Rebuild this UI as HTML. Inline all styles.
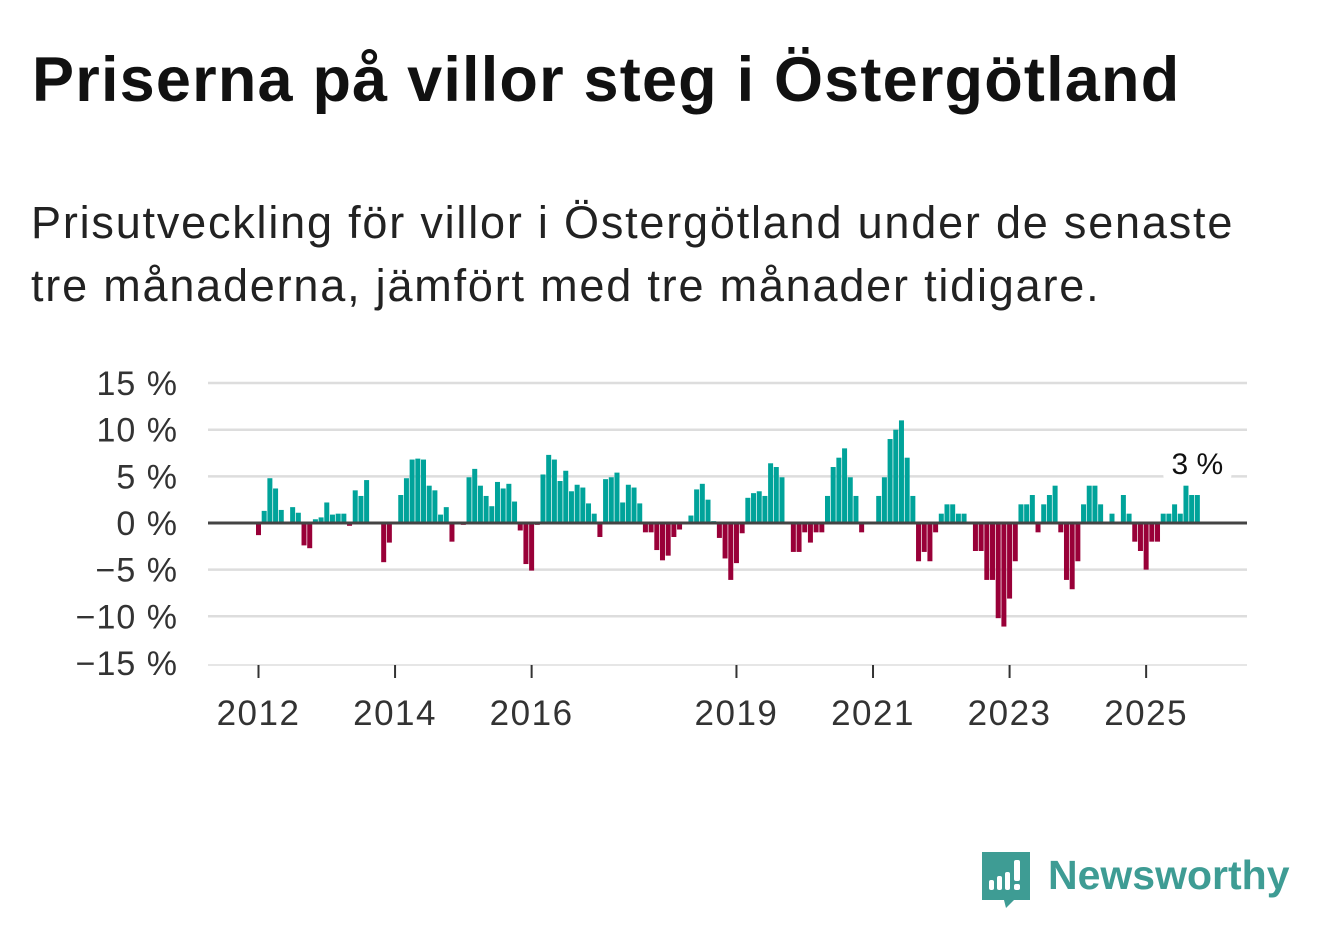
<!DOCTYPE html>
<html><head><meta charset="utf-8">
<style>
body{margin:0;width:1322px;height:939px;background:#fff;font-family:"Liberation Sans",sans-serif;overflow:hidden;position:relative}
h1{position:absolute;left:32px;top:40px;margin:0;font-size:63px;line-height:80px;font-weight:bold;color:#111;letter-spacing:1.2px;white-space:nowrap}
p.sub{position:absolute;left:31px;top:191px;margin:0;font-size:45px;line-height:63px;color:#222;width:1290px;letter-spacing:1.8px;white-space:nowrap}
svg{position:absolute;left:0;top:0}
</style></head><body>
<h1>Priserna på villor steg i Östergötland</h1>
<p class="sub">Prisutveckling för villor i Östergötland under de senaste<br>tre månaderna, jämfört med tre månader tidigare.</p>
<svg id="chart" width="1322" height="939"></svg>
<svg width="1322" height="939" style="pointer-events:none">
  <path d="M982 852 h48 v48 h-16 l-8 8 l-2 -8 h-22 z" fill="#3e9c94"/>
  <rect x="989" y="880" width="5" height="10" rx="2" fill="#fff"/>
  <rect x="997" y="876" width="5" height="14" rx="2" fill="#fff"/>
  <rect x="1005" y="872" width="5" height="18" rx="2" fill="#fff"/>
  <rect x="1014" y="860" width="6" height="21" rx="2" fill="#fff"/>
  <rect x="1014" y="884" width="6" height="6" rx="2" fill="#fff"/>
  <text x="1048" y="889" font-size="41" font-weight="bold" fill="#3e9c94" font-family="Liberation Sans, sans-serif">Newsworthy</text>
</svg>
<script>
const startYear = 2012;
const values = [-1.3,1.3,4.8,3.7,1.4,0,1.7,1.1,-2.4,-2.7,0.4,0.6,
2.2,0.9,1.0,1.0,-0.3,3.5,2.9,4.6,0,0,-4.2,-2.1,
0,3.0,4.8,6.8,6.9,6.8,4.0,3.5,0.9,1.7,-2.0,0,
-0.2,4.9,5.8,4.0,2.9,1.8,4.4,3.7,4.2,2.3,-0.8,-4.4,
-5.1,-0.2,5.2,7.3,6.8,4.5,5.6,3.4,4.1,3.8,2.1,1.0,
-1.5,4.7,4.9,5.4,2.2,4.1,3.8,2.1,-1.0,-1.0,-2.9,-4.0,
-3.5,-1.5,-0.7,0,0.8,3.6,4.2,2.5,0.2,-1.6,-3.8,-6.1,
-4.3,-1.1,2.7,3.2,3.4,2.9,6.4,6.0,4.9,0,-3.1,-3.1,
-1.0,-2.1,-1.0,-1.0,2.9,6.0,7.0,8.0,4.9,2.9,-1.0,0,
0,2.9,4.9,9.0,10.0,11.0,7.0,2.9,-4.1,-3.1,-4.1,-1.0,
1.0,2.0,2.0,1.0,1.0,0,-3.0,-3.0,-6.1,-6.1,-10.2,-11.1,
-8.1,-4.1,2.0,2.0,3.0,-1.0,2.0,3.0,4.0,-1.0,-6.1,-7.1,
-4.1,2.0,4.0,4.0,2.0,0,1.0,0,3.0,1.0,-2.0,-3.0,
-5.0,-2.0,-2.0,1.0,1.0,2.0,1.0,4.0,3.0,3.0];
const yTicks = [15,10,5,0,-5,-10,-15];
const yTickLabels = ["15 %","10 %","5 %","0 %","\u22125 %","\u221210 %","\u221215 %"];
const xTickYears = [2012,2014,2016,2019,2021,2023,2025];
const lastLabel = "3 %";

const NS="http://www.w3.org/2000/svg";
const svg=document.getElementById('chart');
const y0=523, pxPer=9.33;
function yS(v){return y0 - v*pxPer;}
const x0=258.5, step=5.69;
function xS(i){return x0 + i*step;}
function el(t,a){const e=document.createElementNS(NS,t);for(const k in a)e.setAttribute(k,a[k]);svg.appendChild(e);return e;}

yTicks.forEach((v,k)=>{
  if(v!==0 && v!==-15){
    const g=el('line',{x1:208,x2:1247,y1:yS(v),y2:yS(v),stroke:'#dddddd','stroke-width':2.5});
    
    
  }
  const t=el('text',{x:178,y:yS(v)+12,'text-anchor':'end','font-size':34,'letter-spacing':1,fill:'#333'});
  t.textContent=yTickLabels[k];
  
  
});
const base=el('line',{x1:208,x2:1247,y1:665,y2:665,stroke:'#dddddd','stroke-width':1.5});



values.forEach((v,i)=>{
  const y=yS(Math.max(v,0)), h=Math.abs(yS(v)-y0);
  const r=el('rect',{x:xS(i)-2.5,y:y,width:5,height:h,fill:v>=0?'#00a39a':'#990038'});
  
  
});
const zl=el('line',{x1:208,x2:1247,y1:y0,y2:y0,stroke:'#444','stroke-width':3});



xTickYears.forEach(yr=>{
  const x=xS((yr-startYear)*12);
  const tk=el('line',{x1:x,x2:x,y1:665,y2:678,stroke:'#333','stroke-width':2});
  
  
  const t=el('text',{x:x,y:725,'text-anchor':'middle','font-size':35,'letter-spacing':1.5,fill:'#333'});
  t.textContent=yr;
  
  
});

const li=values.length-1;
const bg=el('rect',{x:xS(li)-34,y:446,width:68,height:34,fill:'#fff',rx:4});


const lt=el('text',{x:xS(li),y:474,'text-anchor':'middle','font-size':30,fill:'#111'});
lt.textContent=lastLabel;


</script>
</body></html>
